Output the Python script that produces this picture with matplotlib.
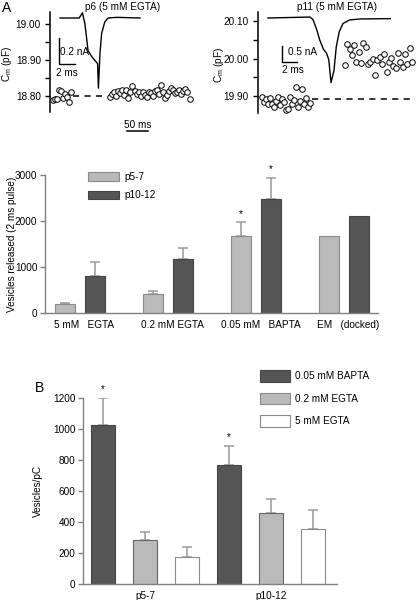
import matplotlib
matplotlib.use("Agg")
import matplotlib.pyplot as plt
from matplotlib.patches import Patch
import numpy as np

plt.rcParams['font.family'] = ['Liberation Sans', 'DejaVu Sans']
plt.rcParams['font.size'] = 7.2
plt.rcParams['mathtext.fontset'] = 'custom'
plt.rcParams['mathtext.rm'] = 'Liberation Sans'
plt.rcParams['mathtext.it'] = 'Liberation Sans:italic'

# ---- panel A data: capacitance (pF) before / after the pulse ----
cm_p6_pre = [18.789, 18.791, 18.793, 18.817, 18.815, 18.794, 18.806, 18.798, 18.784, 18.812]
cm_p6_post = [18.797, 18.806, 18.812, 18.800, 18.815, 18.808, 18.818, 18.802, 18.817, 18.795,
              18.810, 18.827, 18.815, 18.805, 18.812, 18.800, 18.810, 18.803, 18.796, 18.812,
              18.808, 18.800, 18.815, 18.818, 18.805, 18.830, 18.810, 18.795, 18.802, 18.815,
              18.822, 18.818, 18.808, 18.812, 18.818, 18.805, 18.815, 18.820, 18.810, 18.792]
cm_p6_base = 18.80

cm_p11_pre = [19.897, 19.885, 19.892, 19.878, 19.895, 19.880, 19.870, 19.888, 19.898, 19.875,
              19.893, 19.885, 19.862, 19.866, 19.897, 19.880, 19.890, 19.925, 19.872, 19.888,
              19.920, 19.878, 19.895, 19.870, 19.882]
cm_p11_post = [19.984, 20.040, 20.025, 20.010, 20.035, 19.990, 20.018, 19.988, 20.042, 20.030,
               19.985, 19.990, 19.998, 19.955, 19.995, 20.003, 19.985, 20.012, 19.965, 19.990,
               20.002, 19.980, 19.975, 20.015, 19.992, 19.978, 20.012, 19.985, 20.028, 19.990]
cm_p11_base = 19.892

# sampling (ms)
dt_p6_pre, dt_p6_post, t0_p6_pre, t0_p6_post = 5.0, 4.85, 6.0, 143.0
dt_p11_pre, dt_p11_post, t0_p11_pre, t0_p11_post = 4.8, 5.5, 9.5, 207.0

# Ca current traces (ms, nA)
trace_p6_t = [0, 2.4, 2.8, 3.1, 3.3, 3.5, 4.0, 4.4, 4.7, 4.8, 5.0, 5.2, 5.6, 6.0, 7.1, 10.0]
trace_p6_i = [0, 0, 0.04, -0.04, -0.14, -0.25, -0.30, -0.33, -0.35, -0.54, -0.27, -0.12, -0.03, 0, 0.005, 0]
trace_p11_t = [0, 5.6, 6.0, 6.5, 6.9, 7.4, 7.8, 8.1, 8.4, 8.8, 9.1, 9.5, 10.0, 10.9, 12.3, 16.3]
trace_p11_i = [0, 0.03, -0.05, -0.37, -0.69, -0.98, -1.10, -1.3, -2.02, -1.63, -0.9, -0.43, -0.17, -0.06, -0.03, -0.02]

# ---- middle panel data ----
conditions = ["5 mM   EGTA", "0.2 mM EGTA", "0.05 mM   BAPTA", "EM   (docked)"]
released_p5_7 = [195, 410, 1675, 1675]
released_p5_7_err = [15, 75, 295, np.nan]
released_p10_12 = [795, 1175, 2470, 2110]
released_p10_12_err = [305, 240, 465, np.nan]

# ---- panel B data ----
ages = ["p5-7", "p10-12"]
per_pc_bapta = [1020, 765]
per_pc_bapta_err = [175, 125]
per_pc_egta02 = [282, 458]
per_pc_egta02_err = [51, 90]
per_pc_egta5 = [172, 352]
per_pc_egta5_err = [64, 126]

DARK = '#555555'
LIGHT = '#bababa'
EDGE = '#8a8a8a'
ERR = '#9a9a9a'

W, H = 419, 600
fig = plt.figure(figsize=(W / 100, H / 100), dpi=100)


def box(x0, y0, x1, y1):
    # pixel box, top-left origin -> figure rect
    return [x0 / W, 1 - y1 / H, (x1 - x0) / W, (y1 - y0) / H]


def cm_axes(rect, xmax, ylim, ticks, labels):
    ax = fig.add_axes(rect)
    ax.set_xlim(0, xmax)
    ax.set_ylim(*ylim)
    for s in ['top', 'right', 'bottom']:
        ax.spines[s].set_visible(False)
    ax.spines['left'].set_linewidth(1.1)
    ax.set_xticks([])
    ax.set_yticks(ticks)
    ax.set_yticklabels(labels)
    ax.tick_params(axis='y', length=3.5, width=1.0, pad=3)
    ax.set_ylabel(r'C$_\mathrm{m}$ (pF)')
    ax.patch.set_alpha(0)
    return ax


circ = dict(ls='none', marker='o', ms=4.0, mfc='white', mec='black', mew=0.7, zorder=3)

# left capacitance panel
axl = cm_axes(box(50, 12, 195, 112), 145 / 0.42, (18.7556, 19.0333),
              [18.80, 18.85, 18.90, 18.95, 19.00], ['18.80', '', '18.90', '', '19.00'])
axl.yaxis.set_label_coords(-0.25, 0.48)
axl.plot(t0_p6_pre + dt_p6_pre * np.arange(len(cm_p6_pre)), cm_p6_pre, **circ)
axl.plot(t0_p6_post + dt_p6_post * np.arange(len(cm_p6_post)), cm_p6_post, **circ)
axl.plot([55, 133], [cm_p6_base] * 2, color='black', lw=1.1, ls=(0, (4, 3.5)))
axl.plot([183, 233], [18.703, 18.703], color='black', lw=1.1, clip_on=False)
axl.text(208, 18.707, '50 ms', ha='center', va='bottom')
axl.set_title('p6 (5 mM EGTA)', fontsize=7.2, pad=1.5, y=1.0)

# right capacitance panel
axr = cm_axes(box(258, 12, 415, 113), 157 / 0.42, (19.855, 20.124),
              [19.90, 19.95, 20.00, 20.05, 20.10], ['19.90', '', '20.00', '', '20.10'])
axr.yaxis.set_label_coords(-0.205, 0.48)
axr.plot(t0_p11_pre + dt_p11_pre * np.arange(len(cm_p11_pre)), cm_p11_pre, **circ)
axr.plot(t0_p11_post + dt_p11_post * np.arange(len(cm_p11_post)), cm_p11_post, **circ)
axr.plot([129, 362], [cm_p11_base] * 2, color='black', lw=1.1, ls=(0, (4, 3.5)), zorder=1)
axr.set_title('p11 (5 mM EGTA)', fontsize=7.2, pad=1.5, y=1.0)

# current trace insets
ti = fig.add_axes(box(52, 8, 148, 95))
ti.set_xlim(-1, 11)
ti.set_ylim(-(95 - 18) / 130, 10 / 130)
ti.axis('off')
ti.plot(trace_p6_t, trace_p6_i, color='black', lw=1.0)
ti.plot([-0.1, -0.1, 1.9], [-0.15, -0.35, -0.35], color='black', lw=1.0)
ti.text(0.05, -0.26, '0.2 nA', va='center', ha='left')
ti.text(-0.5, -0.42, '2 ms', va='center', ha='left')

tr = fig.add_axes(box(262, 8, 398, 90))
tr.set_xlim(-0.8, 17.33)
tr.set_ylim(-(90 - 18) / 32, 10 / 32)
tr.axis('off')
tr.plot(trace_p11_t, trace_p11_i, color='black', lw=1.0)
tr.plot([1.87, 1.87, 3.87], [-0.875, -1.375, -1.375], color='black', lw=1.0)
tr.text(2.6, -1.06, '0.5 nA', va='center', ha='left')
tr.text(1.9, -1.63, '2 ms', va='center', ha='left')


def bar_axes(rect):
    ax = fig.add_axes(rect)
    for s in ['top', 'right']:
        ax.spines[s].set_visible(False)
    for s in ['left', 'bottom']:
        ax.spines[s].set_color('#808080')
        ax.spines[s].set_linewidth(1.0)
    ax.tick_params(axis='y', length=3.5, width=1.0, color='#808080', pad=2)
    ax.tick_params(axis='x', length=0, pad=5)
    return ax


def draw_bars(ax, x, vals, errs, face, edge, width):
    ax.bar(x, vals, width=width, color=face, edgecolor=edge, lw=0.8, zorder=2)
    errs = np.asarray(errs, dtype=float)
    ok = ~np.isnan(errs)
    x = np.asarray(x)[ok]
    v = np.asarray(vals)[ok]
    e = errs[ok]
    ax.errorbar(x, v, yerr=[np.zeros_like(e), e], fmt='none', ecolor=ERR,
                elinewidth=1.1, capsize=3.5, capthick=1.1, zorder=1)


# middle panel
axm = bar_axes(box(45, 175, 378, 313))
xm = np.arange(len(conditions))
off = 15 / 88
draw_bars(axm, xm - off, released_p5_7, released_p5_7_err, LIGHT, EDGE, 20 / 88)
draw_bars(axm, xm + off, released_p10_12, released_p10_12_err, DARK, '#444444', 20 / 88)
axm.set_xlim((45 - 80) / 88, (378 - 80) / 88)
axm.set_ylim(0, 3000)
axm.set_yticks([0, 1000, 2000, 3000])
axm.set_xticks(xm + 0.05)
axm.set_xticklabels(conditions)
axm.set_ylabel('Vesicles released (2 ms pulse)')
axm.yaxis.set_label_coords(-0.085, 0.5)
axm.text(xm[2] - off, released_p5_7[2] + released_p5_7_err[2] + 80, '*', ha='center', va='bottom')
axm.text(xm[2] + off, released_p10_12[2] + released_p10_12_err[2] + 80, '*', ha='center', va='bottom')
axm.legend([Patch(facecolor=LIGHT, edgecolor=EDGE, lw=0.8), Patch(facecolor=DARK, edgecolor='#444444', lw=0.8)],
           ['p5-7', 'p10-12'], loc='upper left', bbox_to_anchor=(88 / W, 1 - 172 / H),
           bbox_transform=fig.transFigure, frameon=False, handlelength=3.1, handleheight=0.95,
           handletextpad=0.5, labelspacing=0.85, borderpad=0, borderaxespad=0, fontsize=7.2)

# panel B
axb = bar_axes(box(83, 397.5, 337, 584))
xb = np.arange(len(ages))
offb = 42 / 126
draw_bars(axb, xb - offb, per_pc_bapta, per_pc_bapta_err, DARK, '#444444', 24 / 126)
draw_bars(axb, xb, per_pc_egta02, per_pc_egta02_err, LIGHT, '#666666', 24 / 126)
draw_bars(axb, xb + offb, per_pc_egta5, per_pc_egta5_err, 'white', EDGE, 24 / 126)
axb.set_xlim((83 - 145) / 126, (337 - 145) / 126)
axb.set_ylim(0, 1200)
axb.set_yticks(range(0, 1201, 200))
axb.set_xticks(xb)
axb.set_xticklabels(ages)
axb.set_ylabel('Vesicles/pC')
axb.yaxis.set_label_coords(-0.157, 0.5)
for i in range(len(ages)):
    axb.text(xb[i] - offb, per_pc_bapta[i] + per_pc_bapta_err[i] + 25, '*', ha='center', va='bottom')
axb.legend([Patch(facecolor=DARK, edgecolor='#444444', lw=0.8), Patch(facecolor=LIGHT, edgecolor=EDGE, lw=0.8),
            Patch(facecolor='white', edgecolor=EDGE, lw=0.8)],
           ['0.05 mM BAPTA', '0.2 mM EGTA', '5 mM EGTA'], loc='upper left',
           bbox_to_anchor=(260 / W, 1 - 370 / H), bbox_transform=fig.transFigure, frameon=False,
           handlelength=3.0, handleheight=1.4, handletextpad=0.45, labelspacing=1.1,
           borderpad=0, borderaxespad=0, fontsize=7.2)

fig.text(2 / W, 1 - 7.5 / H, 'A', fontsize=10, va='center', ha='left')
fig.text(35 / W, 1 - 388 / H, 'B', fontsize=10, va='center', ha='left')

fig.savefig('out.png', dpi=100)
